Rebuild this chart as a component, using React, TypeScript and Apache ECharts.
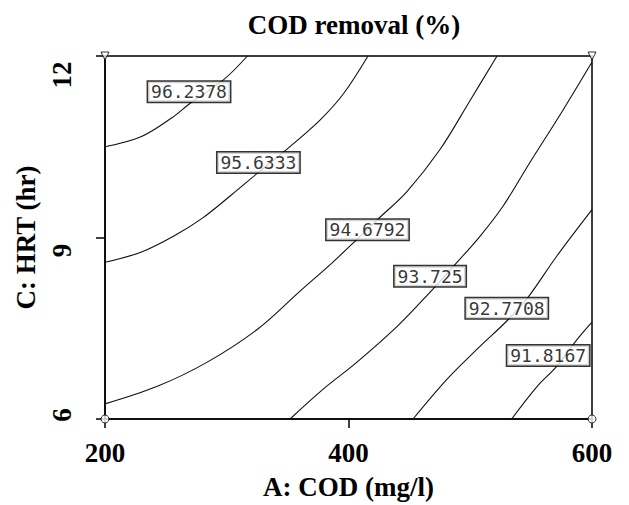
import React, { useEffect, useRef } from "react";
import * as echarts from "echarts";

// Contour levels (COD removal %)
const levels = [96.2378, 95.6333, 94.6792, 93.725, 92.7708, 91.8167];

// Contour line traces: [A: COD (mg/l), C: HRT (hr)]
const contour96_2378 = [[200, 10.5], [230, 10.67], [255, 10.98], [270, 11.22], [297, 11.6], [317, 12]];
const contour95_6333 = [[200, 8.59], [230, 8.76], [258, 9.04], [280, 9.32], [303, 9.69], [325, 10.06], [350, 10.47], [377, 10.95], [396, 11.38], [416, 12]];
const contour94_6792 = [[200, 6.25], [243, 6.54], [284, 6.94], [325, 7.48], [360, 8.11], [387, 8.59], [407, 8.97], [424, 9.3], [448, 9.76], [475, 10.45], [500, 11.27], [522, 12]];
const contour93_725 = [[352, 6], [379, 6.49], [407, 6.94], [440, 7.53], [469, 8.14], [486, 8.52], [508, 9.02], [527, 9.52], [549, 10.24], [576, 11.1], [600, 11.9]];
const contour92_7708 = [[453, 6], [481, 6.66], [508, 7.2], [530, 7.62], [547, 8.0], [571, 8.69], [600, 9.46]];
const contour91_8167 = [[534, 6], [555, 6.54], [571, 6.87], [588, 7.32], [600, 7.6]];
const contours = [contour96_2378, contour95_6333, contour94_6792, contour93_725, contour92_7708, contour91_8167];

// Contour label anchor positions
const labelX = [269, 326, 415.6, 467, 530, 564];
const labelY = [11.41, 10.24, 9.13, 8.36, 7.83, 7.05];

// Design points at the corners
const designTop = [[200, 12], [600, 12]];
const designBottom = [[200, 6], [600, 6]];

// Axis ticks
const xTicks = [200, 400, 600];
const yTicks = [6, 9, 12];

const serif = "'Liberation Serif', 'Times New Roman', serif";

export default function App() {
  const ref = useRef<HTMLDivElement>(null);
  useEffect(() => {
    if (!ref.current) return;
    const chart = echarts.init(ref.current, undefined, { renderer: "svg" });
    const lineSeries = contours.map((c, i) => ({
      type: "line",
      name: String(levels[i]),
      data: c,
      smooth: 0.35,
      symbol: "none",
      lineStyle: { color: "#111", width: 1.1 },
      clip: true,
      z: 2,
    }));
    const tickFont = { fontFamily: serif, fontWeight: "bold" as const, fontSize: 27, color: "#000" };
    chart.setOption({
      animation: false,
      backgroundColor: "#fff",
      title: {
        text: "COD removal (%)",
        left: 349,
        top: 6,
        textAlign: "center",
        textStyle: { fontFamily: serif, fontWeight: "bold", fontSize: 27, color: "#000" },
      },
      grid: {
        left: 105,
        right: 37,
        top: 56,
        bottom: 85,
        show: true,
        borderColor: "#000",
        borderWidth: 1.5,
        backgroundColor: "transparent",
      },
      xAxis: {
        type: "value",
        min: xTicks[0],
        max: xTicks[xTicks.length - 1],
        interval: xTicks[1] - xTicks[0],
        name: "A: COD (mg/l)",
        nameLocation: "middle",
        nameGap: 54,
        nameTextStyle: { fontFamily: serif, fontWeight: "bold", fontSize: 27, color: "#000" },
        axisLine: { lineStyle: { color: "#000", width: 1.5 } },
        axisTick: { show: true, length: 9, lineStyle: { color: "#000", width: 1.5 } },
        axisLabel: { margin: 20, ...tickFont },
        splitLine: { show: false },
      },
      yAxis: {
        type: "value",
        min: yTicks[0],
        max: yTicks[yTicks.length - 1],
        interval: yTicks[1] - yTicks[0],
        name: "C: HRT (hr)",
        nameLocation: "middle",
        nameGap: 66,
        nameRotate: 90,
        nameTextStyle: { fontFamily: serif, fontWeight: "bold", fontSize: 27, color: "#000" },
        axisLine: { lineStyle: { color: "#000", width: 1.5 } },
        axisTick: { show: true, length: 9, lineStyle: { color: "#000", width: 1.5 } },
        axisLabel: {
          rotate: 90,
          align: "center",
          verticalAlign: "bottom",
          margin: 30,
          ...tickFont,
          formatter: (v: number) => {
            if (v >= 12) return "{hi|" + v + "}";
            if (v >= 9) return "{mid|" + v + "}";
            return "{lo|" + v + "}";
          },
          rich: {
            hi: { ...tickFont, padding: [0, 38, 0, 0] },
            mid: { ...tickFont, padding: [0, 26, 0, 0] },
            lo: { ...tickFont, padding: [0, 0, 0, 8] },
          },
        },
        splitLine: { show: false },
      },
      series: [
        ...lineSeries,
        {
          type: "scatter",
          data: designTop,
          symbol: "triangle",
          symbolRotate: 180,
          symbolSize: 8,
          itemStyle: { color: "#fff", borderColor: "#000", borderWidth: 1 },
          clip: false,
          z: 4,
        },
        {
          type: "scatter",
          data: designBottom,
          symbol: "circle",
          symbolSize: 8,
          itemStyle: { color: "#fff", borderColor: "#000", borderWidth: 1 },
          clip: false,
          z: 4,
        },
        {
          type: "scatter",
          data: labelX.map((x, i) => [x, labelY[i], levels[i]]),
          symbolSize: 0,
          clip: false,
          z: 5,
          label: {
            show: true,
            position: "inside",
            formatter: (p: any) => String(p.value[2]),
            fontFamily: "'DejaVu Sans Mono', monospace",
            fontSize: 18,
            color: "#000",
            backgroundColor: "#fff",
            borderColor: "#000",
            borderWidth: 1.5,
            padding: [2, 3, 0, 3],
          },
        },
      ],
    });
    return () => chart.dispose();
  }, []);
  return (
    <div
      ref={ref}
      style={{ position: "absolute", left: 0, top: 0, width: 629, height: 505, background: "#fff" }}
    />
  );
}
